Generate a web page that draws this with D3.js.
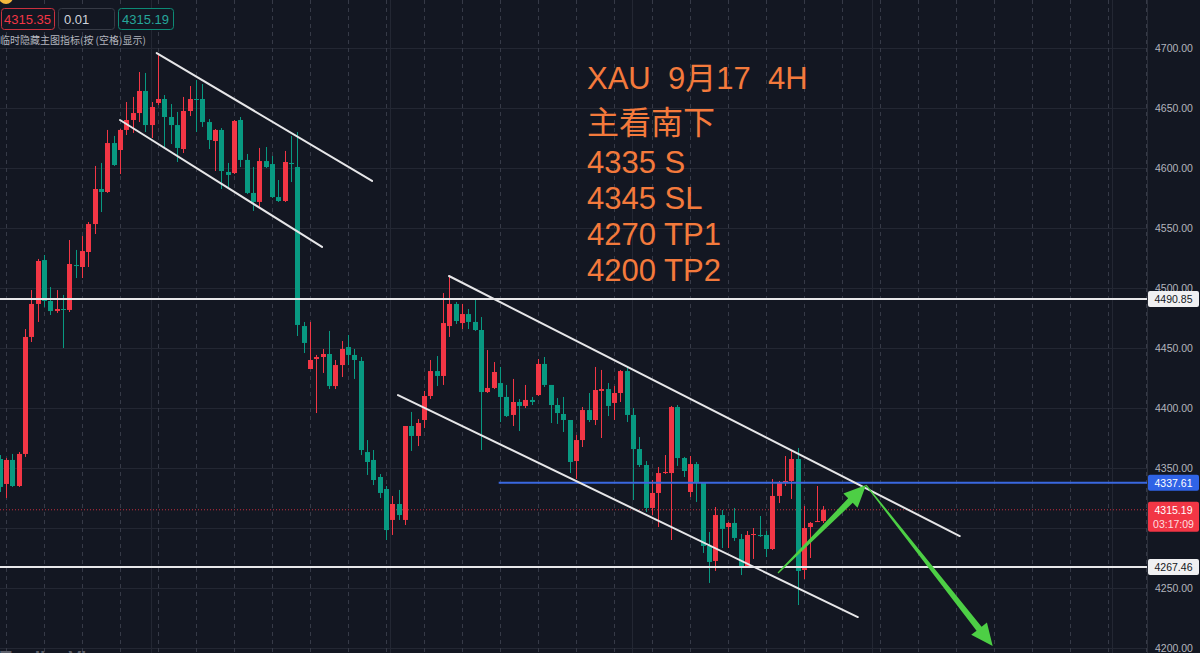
<!DOCTYPE html>
<html><head><meta charset="utf-8">
<script src="https://cdn.jsdelivr.net/npm/d3@7"></script>
<style>html,body{margin:0;padding:0;background:#131722;overflow:hidden}svg{display:block}</style>
</head><body><svg id="c" width="1200" height="653"></svg>
<script>
// ---- data (4H candles, index 0..130) ----
const open = [4357.5,4336.7,4356.7,4335,4361.7,4459.2,4486.7,4523.3,4489.2,4480.8,4482.5,4481.7,4519.2,4517.5,4530,4553.3,4582.5,4580,4620.8,4615,
4631.7,4640,4645.8,4664.2,4635.8,4654.2,4657.5,4642.5,4635.8,4615.8,4647.5,4657.5,4657.5,4638.3,4622.5,4631.7,4596.7,4595.8,4640,4606.7,
4579.2,4571.7,4605.8,4603.3,4575.8,4572.5,4604.2,4600.8,4468.3,4432.5,4440.8,4442.5,4445,4418.3,4435.8,4450.8,4444.2,4439.2,4363.3,4356.7,
4342.5,4332.5,4306.7,4320,4306.7,4385,4376.7,4390,4410,4430.8,4426.7,4468.3,4486.7,4470.8,4478.3,4471.7,4465,4413.3,4416.7,4420.8,
4409.2,4394.2,4405,4401.7,4406.7,4410.8,4436.7,4419.2,4402.5,4395,4390,4355.8,4373.3,4398.3,4390,4414.2,4415.8,4404.2,4412.5,4430.8,
4394.2,4365.8,4352.5,4316.7,4329.2,4345.8,4345.8,4400.8,4358.3,4330,4353.3,4337.5,4285,4272.5,4310.8,4300.8,4304.2,4290.8,4267.5,4294.2,
4294.2,4294.2,4282.5,4326.7,4337.5,4339.2,4357.5,4265,4300.8,4305,4305.8];
const high = [4360.8,4358.3,4361.7,4363.3,4465.8,4498.3,4524.2,4527.5,4500.8,4498.3,4494.2,4540,4531.7,4543.3,4555,4601.7,4604.2,4631.7,4626.7,4632.5,
4655,4659.2,4680,4679.2,4655,4695.8,4660.8,4653.3,4646.7,4659.2,4668.3,4673.3,4670,4640.8,4632.5,4633.3,4604.2,4640,4642.5,4611.7,
4600.8,4616.7,4617.5,4610,4590,4614.2,4626.7,4630,4471.7,4471.7,4444.2,4449.2,4464.2,4440,4455.8,4460.8,4449.2,4442.5,4373.3,4365,
4345,4335,4326.7,4331.7,4385,4396.7,4390.8,4414.2,4440,4443.3,4495.8,4510,4488.3,4486.7,4482.5,4490.8,4475.8,4448.3,4438.3,4434.2,
4419.2,4424.2,4407.5,4419.2,4409.2,4440.8,4442.5,4419.2,4408.3,4409.2,4390,4377.5,4400.8,4412.5,4434.2,4431.7,4420.8,4418.3,4431.7,4434.2,
4400,4375.8,4355.8,4340,4350.8,4360.8,4401.7,4402.5,4359.2,4360,4355,4338.3,4296.7,4317.5,4315,4305,4316.7,4295,4297.5,4300,
4310,4297.5,4340.8,4339.2,4360,4364.2,4366.7,4318.3,4305,4335,4318.3];
const low = [4330,4325,4334.2,4334.2,4359.2,4455,4471.7,4484.2,4477.5,4479.2,4450,4480,4508.3,4508.3,4517.5,4545,4563.3,4579.2,4601.7,4595,
4627.5,4629.2,4638.3,4630,4625,4652.5,4617.5,4620,4605,4612.5,4643.3,4630,4634.2,4615.8,4597.5,4582.5,4584.2,4595,4600.8,4578.3,
4564.2,4567.5,4600,4575,4571.7,4571.7,4588.3,4460,4445.8,4432.5,4395.8,4429.2,4415.8,4415.8,4425.8,4435.8,4424.2,4360.8,4344.2,4335.8,
4325,4290,4294.2,4306.7,4302.5,4364.2,4368.3,4383.3,4407.5,4418.3,4419.2,4459.2,4470,4465.8,4465.8,4464.2,4365,4412.5,4415.8,4388.3,
4392.5,4385,4380.8,4400,4402.5,4410,4417.5,4387.5,4386.7,4380,4345.8,4340.8,4367.5,4388.3,4385.8,4375,4393.3,4390,4405,4388.3,
4323.3,4350.8,4313.3,4310.8,4300.8,4345,4290,4351.7,4342.5,4325.8,4321.7,4279.2,4254.2,4264.2,4283.3,4283.3,4289.2,4260.8,4266.7,4274.2,
4292.5,4275.8,4281.7,4320.8,4335,4324.2,4235.8,4257.5,4275,4305,4304.2];
const close = [4334.2,4356.7,4335,4361.7,4459.2,4486.7,4522.5,4489.2,4480.8,4482.5,4481.7,4520,4518.3,4530.8,4553.3,4582.5,4580,4620.8,4602.5,4631.7,
4640,4645.8,4664.2,4635.8,4650.8,4657.5,4642.5,4635.8,4616.7,4647.5,4657.5,4656.7,4638.3,4623.3,4631.7,4597.5,4594.2,4639.2,4606.7,4579.2,
4571.7,4605.8,4600.8,4575.8,4572.5,4605,4603.3,4469.2,4454.2,4440,4442.5,4445,4418.3,4435.8,4449.2,4444.2,4440,4365,4355,4340,
4329.2,4298.3,4320,4310.8,4385,4376.7,4387.5,4410,4430.8,4426.7,4470.8,4486.7,4472.5,4478.3,4471.7,4465,4413.3,4416.7,4430,4409.2,
4393.3,4405,4401.7,4406.7,4405,4436.7,4419.2,4402.5,4395.8,4390,4355,4373.3,4398.3,4390,4415,4415.8,4401.7,4412.5,4430.8,4394.2,
4365.8,4352.5,4316.7,4329.2,4345.8,4346.7,4400.8,4358.3,4347.5,4353.3,4337.5,4285,4271.7,4310.8,4299.2,4304.2,4291.7,4267.5,4294.2,4295,
4293.3,4282.5,4326.7,4337.5,4339.2,4357.5,4264.2,4300,4304.2,4305.8,4315.19];

const priceTicks = [4200,4250,4300,4350,4400,4450,4500,4550,4600,4650,4700];
const whiteLevels = [4490.85, 4267.46];
const blueLevel = 4337.61;
const lastPrice = 4315.19;
const countdown = "03:17:09";
const quoteBoxes = ["4315.35", "0.01", "4315.19"];
const hintText = "临时隐藏主图指标(按 (空格)显示)";
const noteLines = ["XAU  9月17  4H", "主看南下", "4335 S", "4345 SL", "4270 TP1", "4200 TP2"];
// drawings: [candle index, price]
const channels = [
  [[24.8, 4695.8], [58.8, 4589.2]],
  [[19.0, 4640.0], [50.9, 4534.2]],
  [[70.95, 4510.0], [151.6, 4293.3]],
  [[62.9, 4410.8], [135.5, 4225.8]]
];
const blueStartIdx = 78.8;
const arrows = [
  [[122.9, 4262.5], [136.8, 4335.8]],
  [[136.8, 4335.8], [156.8, 4201.7]]
];
const sessionIdx = d3.range(1, 200, 6);
const timeGridIdx = [23.9, 61.6, 99.8, 137.7, 175.6];

// ---- layout ----
const W = 1200, H = 653, plotR = 1147;
const UP = "#f23645", DOWN = "#089981";
const svg = d3.select("#c");
const x = d3.scaleLinear().domain([0, 130]).range([-0.33, 822.96]);
const y = d3.scaleLinear().domain([4200, 4700]).range([648, 48]);

svg.append("rect").attr("width", W).attr("height", H).attr("fill", "#131722");

const plot = svg.append("g");
plot.append("defs").append("clipPath").attr("id", "pc").append("rect").attr("width", plotR).attr("height", H);
const g = plot.append("g").attr("clip-path", "url(#pc)");

// grid
g.selectAll(".hg").data(priceTicks).join("line")
  .attr("x1", 0).attr("x2", plotR).attr("y1", d => Math.round(y(d)) + 0.5).attr("y2", d => Math.round(y(d)) + 0.5)
  .attr("stroke", "#232733").attr("stroke-width", 1);
g.selectAll(".tg").data(timeGridIdx).join("line")
  .attr("x1", d => Math.round(x(d)) + 0.5).attr("x2", d => Math.round(x(d)) + 0.5).attr("y1", 0).attr("y2", H)
  .attr("stroke", "#232733").attr("stroke-width", 1);
g.selectAll(".sg").data(sessionIdx.filter(i => x(i) < plotR)).join("line")
  .attr("x1", d => Math.round(x(d)) + 0.5).attr("x2", d => Math.round(x(d)) + 0.5).attr("y1", 0).attr("y2", H)
  .attr("stroke", "#363a47").attr("stroke-width", 1).attr("stroke-dasharray", "4,4");

// last price dotted line
g.append("line").attr("x1", 0).attr("x2", plotR).attr("y1", y(lastPrice)).attr("y2", y(lastPrice))
  .attr("stroke", UP).attr("stroke-opacity", 0.8).attr("stroke-width", 1).attr("stroke-dasharray", "1,2");

// candles
const idx = d3.range(open.length);
const col = i => close[i] >= open[i] ? UP : DOWN;
g.selectAll(".wick").data(idx).join("line")
  .attr("x1", i => Math.round(x(i)) + 0.5).attr("x2", i => Math.round(x(i)) + 0.5)
  .attr("y1", i => y(high[i])).attr("y2", i => y(low[i]))
  .attr("stroke", col).attr("stroke-width", 1);
g.selectAll(".body").data(idx).join("rect")
  .attr("x", i => Math.round(x(i)) - 2).attr("width", 5)
  .attr("y", i => y(Math.max(open[i], close[i])))
  .attr("height", i => Math.max(1, Math.abs(y(open[i]) - y(close[i]))))
  .attr("fill", col);

// horizontal levels
g.selectAll(".wl").data(whiteLevels).join("line")
  .attr("x1", 0).attr("x2", plotR).attr("y1", d => y(d)).attr("y2", d => y(d))
  .attr("stroke", "#e8e8ea").attr("stroke-width", 2);
g.append("line").attr("x1", x(blueStartIdx)).attr("x2", plotR).attr("y1", y(blueLevel)).attr("y2", y(blueLevel))
  .attr("stroke", "#3a68e0").attr("stroke-width", 2);

// channels
g.selectAll(".ch").data(channels).join("line")
  .attr("x1", d => x(d[0][0])).attr("y1", d => y(d[0][1]))
  .attr("x2", d => x(d[1][0])).attr("y2", d => y(d[1][1]))
  .attr("stroke", "#e6e6e8").attr("stroke-width", 2).attr("stroke-linecap", "round");

// arrows
function arrowPath(a) {
  const x0 = x(a[0][0]), y0 = y(a[0][1]), x1 = x(a[1][0]), y1 = y(a[1][1]);
  const L = Math.hypot(x1 - x0, y1 - y0), ux = (x1 - x0) / L, uy = (y1 - y0) / L, nx = -uy, ny = ux;
  const hl = 22, hw = 10, sw = 3.2, tw = 0.6;
  const bx = x1 - ux * hl, by = y1 - uy * hl;
  const p = [[x0 + nx * tw, y0 + ny * tw], [bx + nx * sw, by + ny * sw], [bx + nx * hw, by + ny * hw], [x1, y1],
    [bx - nx * hw, by - ny * hw], [bx - nx * sw, by - ny * sw], [x0 - nx * tw, y0 - ny * tw]];
  return "M" + p.map(q => q.join(",")).join("L") + "Z";
}
g.selectAll(".ar").data(arrows).join("path").attr("d", arrowPath).attr("fill", "#4dcf45");

// notes
const noteBase = [89, 134, 173, 209, 245, 281];
const notes = svg.append("g").attr("font-family", "'Liberation Sans',Arial,'Noto Sans CJK SC',sans-serif").attr("fill", "#f47a3c");
notes.selectAll("text").data(noteLines).join("text")
  .attr("x", 587).attr("y", (d, i) => noteBase[i]).attr("font-size", (d, i) => i === 1 ? 32 : 31)
  .attr("xml:space", "preserve").style("white-space", "pre").text(d => d);

// right axis
const ax = svg.append("g");
const AXF = "'Liberation Sans',Arial,sans-serif";
ax.append("rect").attr("x", plotR).attr("y", 0).attr("width", W - plotR).attr("height", H).attr("fill", "#131722");
ax.append("line").attr("x1", plotR + 0.5).attr("x2", plotR + 0.5).attr("y1", 0).attr("y2", H).attr("stroke", "#2a2e39");
const tagSpans = [[whiteLevels[0], 16], [blueLevel, 16], [lastPrice, 30], [whiteLevels[1], 16]]
  .map(([v, h]) => [y(v) - 8, y(v) - 8 + h]);
const visibleTicks = priceTicks.filter(d => {
  const top = y(d) - 4, bot = y(d) + 4;
  return !tagSpans.some(([a, b]) => top < b && bot > a + 2);
});
ax.selectAll("text").data(visibleTicks).join("text")
  .attr("x", 1155).attr("y", d => y(d) + 3.5).attr("font-family", AXF).attr("font-size", 10.5)
  .attr("fill", "#b2b5be").text(d => d.toFixed(2));

function tag(v, bg, fg, extra) {
  const h = extra ? 30 : 16, t = y(v) - 8;
  ax.append("rect").attr("x", plotR + 1).attr("y", t).attr("width", 51).attr("height", h).attr("rx", 2).attr("fill", bg);
  ax.append("text").attr("x", plotR + 26.5).attr("y", t + 12).attr("text-anchor", "middle")
    .attr("font-family", AXF).attr("font-size", 10.5).attr("fill", fg).text(v.toFixed(2));
  if (extra) ax.append("text").attr("x", plotR + 26.5).attr("y", t + 26).attr("text-anchor", "middle")
    .attr("font-family", AXF).attr("font-size", 10.5).attr("fill", fg).attr("fill-opacity", 0.85).text(extra);
}
tag(whiteLevels[0], "#f0f0f2", "#131722");
tag(blueLevel, "#2f63e6", "#ffffff");
tag(lastPrice, "#f23645", "#ffffff", countdown);
tag(whiteLevels[1], "#f0f0f2", "#131722");

// top-left quote boxes
const qb = svg.append("g").attr("font-family", "'Liberation Sans',Arial,sans-serif").attr("font-size", 13);
const boxX = [1, 58, 118], boxW = [53, 56, 55];
const boxStroke = ["#c9313f", "#363a45", "#0d8a75"], boxText = ["#f23645", "#d1d4dc", "#26a69a"];
qb.selectAll("rect").data(quoteBoxes).join("rect")
  .attr("x", (d, i) => boxX[i] + 0.5).attr("y", 8.5).attr("width", (d, i) => boxW[i]).attr("height", 21).attr("rx", 3)
  .attr("fill", "#131722").attr("stroke", (d, i) => boxStroke[i]);
qb.selectAll("text").data(quoteBoxes).join("text")
  .attr("x", (d, i) => i === 1 ? boxX[i] + 6 : boxX[i] + boxW[i] / 2).attr("text-anchor", (d, i) => i === 1 ? "start" : "middle")
  .attr("y", 24).attr("fill", (d, i) => boxText[i]).text(d => d);
svg.append("text").attr("x", 0).attr("y", 44).attr("font-family", "'Noto Sans CJK SC',sans-serif").attr("font-size", 10)
  .attr("fill", "#b2b5be").text(hintText);
svg.append("circle").attr("cx", 6).attr("cy", -3).attr("r", 7).attr("fill", "#f5b83d");
svg.append("text").attr("x", 0).attr("y", 664).attr("font-family", "'Liberation Sans',Arial,sans-serif").attr("font-size", 19)
  .attr("font-weight", "bold").attr("fill", "#5d606b").text("TradingView");
</script></body></html>
